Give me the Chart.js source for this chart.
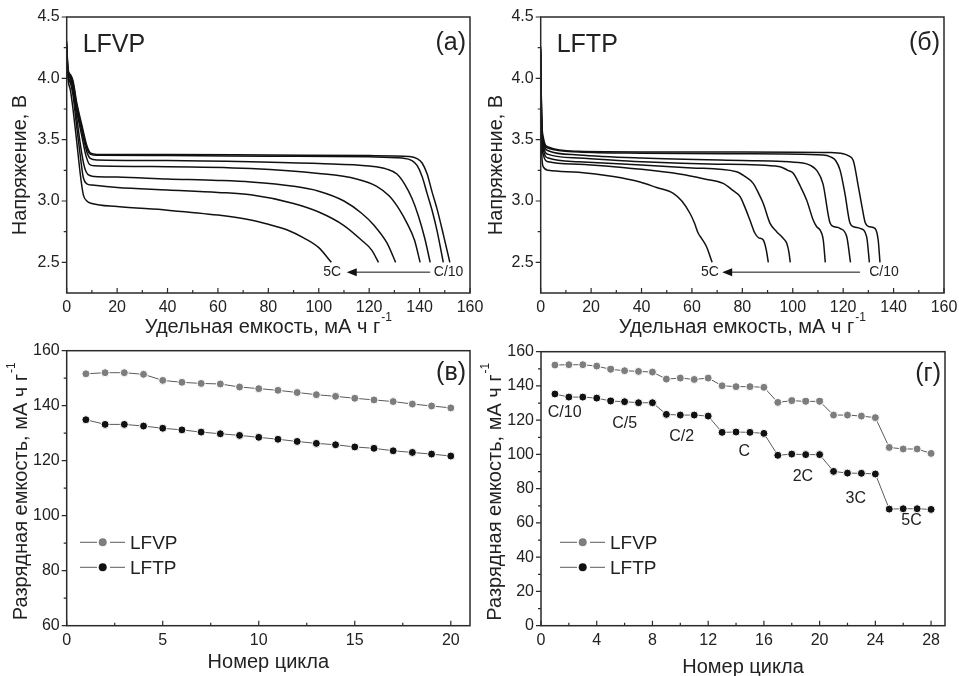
<!DOCTYPE html>
<html>
<head>
<meta charset="utf-8">
<script src="https://cdn.jsdelivr.net/npm/chart.js@4.4.1/dist/chart.umd.min.js"></script>
<style>
  html, body { margin: 0; padding: 0; background: #fff; }
  body { width: 959px; height: 676px; position: relative; overflow: hidden; }
  canvas { position: absolute; }
</style>
</head>
<body>
<canvas id="chartA" width="490" height="340" style="left:0;top:0"></canvas>
<canvas id="chartB" width="479" height="340" style="left:480px;top:0"></canvas>
<canvas id="chartC" width="490" height="336" style="left:0;top:340px"></canvas>
<canvas id="chartD" width="479" height="336" style="left:480px;top:340px"></canvas>
<script>
const FONT = '"Liberation Sans", Arial, sans-serif';
const INK = '#222';

// discharge curves, [capacity mAh/g, voltage V]
const rates = ['C/10', 'C/5', 'C/2', 'C', '2C', '3C', '5C'];

const lfvpC10 = [[0,4.3],[0.5,4.08],[1.5,4.03],[2.5,3.98],[4,3.8],[6,3.62],[8,3.45],[9.5,3.39],[12,3.38],[40,3.38],[80,3.375],[120,3.37],[136,3.362],[139,3.345],[141,3.31],[143,3.22],[145,3.07],[147,2.93],[149.5,2.72],[152,2.5]];
const lfvpC5 = [[0,4.28],[0.5,4.07],[1.5,4.02],[2.5,3.96],[4,3.78],[6,3.6],[8,3.43],[9.5,3.38],[12,3.372],[40,3.37],[80,3.365],[120,3.36],[133,3.35],[137,3.33],[139,3.29],[141,3.2],[143,3.06],[145,2.92],[147,2.75],[149.4,2.5]];
const lfvpC2 = [[0,4.26],[0.5,4.06],[1.5,4.02],[2.5,3.95],[4,3.76],[6,3.57],[8,3.4],[9.5,3.345],[12,3.335],[40,3.33],[73,3.32],[100,3.305],[120,3.285],[127,3.26],[131,3.22],[134,3.14],[137,3.02],[139.5,2.88],[142,2.7],[144.2,2.5]];
const lfvpC1 = [[0,4.24],[0.5,4.05],[1.5,4.0],[2.5,3.93],[4,3.73],[6,3.53],[7.5,3.38],[9,3.3],[11,3.287],[40,3.28],[73,3.265],[100,3.225],[115,3.18],[123,3.12],[128,3.04],[132,2.93],[135,2.82],[138,2.68],[140.2,2.5]];
const lfvp2C = [[0,4.22],[0.5,4.03],[1.5,3.98],[2.5,3.9],[4,3.68],[5.5,3.45],[7,3.28],[8.5,3.215],[11,3.2],[20,3.195],[40,3.18],[60,3.168],[73,3.155],[90,3.12],[100,3.08],[110,3.0],[117,2.9],[122,2.8],[127,2.66],[130.5,2.5]];
const lfvp3C = [[0,4.2],[0.5,4.02],[1.5,3.96],[2.5,3.86],[4,3.6],[5.5,3.35],[6.5,3.2],[8,3.14],[10,3.13],[20,3.11],[40,3.09],[60,3.07],[73,3.05],[90,2.98],[100,2.91],[110,2.8],[117,2.68],[121,2.6],[123.7,2.5]];
const lfvp5C = [[0,4.18],[0.5,4.0],[1.5,3.9],[2.5,3.75],[4,3.48],[5.5,3.2],[6.6,3.05],[8,3.0],[10,2.98],[20,2.955],[40,2.925],[60,2.885],[73,2.845],[80,2.81],[88,2.76],[94,2.7],[100,2.62],[105,2.5]];

const lftpC10 = [[0,4.26],[0.3,3.76],[1,3.52],[3,3.44],[15,3.405],[40,3.4],[80,3.4],[115,3.395],[120,3.385],[122,3.37],[124,3.33],[126,3.12],[127.5,2.95],[128.8,2.82],[130.5,2.79],[132.6,2.777],[133.9,2.68],[134.6,2.5]];
const lftpC5 = [[0,4.24],[0.3,3.74],[1,3.5],[3,3.43],[15,3.4],[40,3.39],[80,3.385],[112,3.375],[115,3.36],[117,3.33],[118.8,3.25],[120.7,3.06],[122.7,2.82],[124.2,2.79],[126.7,2.777],[129.3,2.71],[130.4,2.5]];
const lftpC2 = [[0,4.22],[0.3,3.72],[1,3.48],[3,3.41],[15,3.375],[40,3.35],[80,3.33],[104,3.31],[107,3.29],[109.5,3.25],[112,3.14],[114.8,2.82],[116.5,2.79],[118.7,2.777],[121.4,2.71],[122.9,2.5]];
const lftpC1 = [[0,4.2],[0.3,3.7],[1,3.46],[3,3.38],[15,3.35],[40,3.32],[70,3.3],[94.9,3.28],[98,3.25],[100.2,3.226],[103,3.12],[105.5,3.008],[108.1,2.845],[109.5,2.79],[110.8,2.764],[112.1,2.682],[112.9,2.5]];
const lftp2C = [[0,4.15],[0.3,3.65],[1,3.42],[3,3.35],[15,3.32],[40,3.294],[60,3.27],[77.7,3.239],[81,3.2],[84.3,3.144],[86.5,3.06],[88.3,2.98],[91,2.818],[93.6,2.75],[96,2.7],[97.6,2.655],[98.5,2.58],[99,2.5]];
const lftp3C = [[0,4.1],[0.3,3.6],[1,3.38],[3,3.32],[15,3.3],[40,3.258],[55,3.22],[65,3.18],[72.4,3.144],[76,3.09],[79.1,3.035],[81,2.95],[83,2.845],[85,2.737],[86.5,2.7],[88.3,2.682],[89.5,2.6],[90.3,2.5]];
const lftp5C = [[0,4.0],[0.3,3.45],[1,3.28],[3,3.25],[15,3.235],[28.8,3.2],[39.4,3.155],[46,3.11],[52.6,3.063],[56,3.0],[59.2,2.9],[61,2.82],[62.5,2.737],[64,2.69],[65.8,2.627],[67,2.56],[68,2.5]];

const capacityTicks = [0, 20, 40, 60, 80, 100, 120, 140, 160];
const capacityMinor = [10, 30, 50, 70, 90, 110, 130, 150];
const voltageTicks = [2.5, 3.0, 3.5, 4.0, 4.5];
const voltageMinor = [2.75, 3.25, 3.75, 4.25];

// arrow C/10 -> 5C below the curves: [text x, arrow tail, arrow tip, text x], level V
const arrowA = [151.5, 144.2, 111.1, 105.3];
const arrowB = [136.2, 126.7, 72.0, 67.1];
const arrowLevel = 2.42;

// cycling at C/10, 20 cycles
const cycles20 = [1, 2, 3, 4, 5, 6, 7, 8, 9, 10, 11, 12, 13, 14, 15, 16, 17, 18, 19, 20];
const lfvpCycling = [151.6, 152.0, 152.0, 151.4, 149.2, 148.5, 148.1, 147.9, 146.8, 146.2, 145.6, 144.8, 144.0, 143.4, 142.7, 142.1, 141.5, 140.6, 139.9, 139.2];
const lftpCycling = [134.9, 133.2, 133.2, 132.6, 131.8, 131.2, 130.4, 129.8, 129.2, 128.5, 127.8, 127.0, 126.3, 125.8, 125.0, 124.5, 123.6, 123.0, 122.4, 121.7];
const cycleTicks20 = [0, 5, 10, 15, 20];
const cycleMinor20 = [2.5, 7.5, 12.5, 17.5];
const capTicksC = [60, 80, 100, 120, 140, 160];
const capMinorC = [70, 90, 110, 130, 150];

// rate capability, 4 cycles per rate
const cycles28 = [1, 2, 3, 4, 5, 6, 7, 8, 9, 10, 11, 12, 13, 14, 15, 16, 17, 18, 19, 20, 21, 22, 23, 24, 25, 26, 27, 28];
const lfvpRate = [152.2, 152.4, 152.4, 151.6, 149.7, 148.9, 148.5, 148.1, 144.0, 144.6, 143.8, 144.6, 140.1, 139.6, 139.6, 139.2, 130.4, 131.4, 131.0, 131.0, 123.0, 123.0, 122.4, 121.5, 104.1, 103.2, 103.2, 100.6];
const lftpRate = [135.3, 133.5, 133.5, 132.9, 131.2, 130.8, 130.2, 130.2, 123.4, 123.0, 123.0, 122.4, 112.9, 113.1, 112.9, 112.3, 99.5, 100.2, 99.9, 99.9, 90.1, 89.1, 89.0, 88.6, 68.1, 68.3, 68.3, 67.9];
const cycleTicks28 = [0, 4, 8, 12, 16, 20, 24, 28];
const cycleMinor28 = [2, 6, 10, 14, 18, 22, 26];
const capTicksD = [0, 20, 40, 60, 80, 100, 120, 140, 160];
const capMinorD = [10, 30, 50, 70, 90, 110, 130, 150];
// rate label anchors (cycle, capacity)
const rateLabelX = [1.7, 6.0, 10.1, 14.6, 18.8, 22.6, 26.6];
const rateLabelY = [124.2, 117.8, 110.2, 101.4, 86.8, 74.0, 61.2];

const toPoints = (arr) => arr.map(([x, y]) => ({ x, y }));
const zipPoints = (xs, ys) => xs.map((x, i) => ({ x, y: ys[i] }));

const curve = (arr) => ({
  data: toPoints(arr),
  borderColor: '#111',
  borderWidth: 1.5,
  pointRadius: 0,
  cubicInterpolationMode: 'monotone',
  fill: false
});

const series = (xs, ys, color) => ({
  data: zipPoints(xs, ys),
  borderColor: '#5a5a5a',
  borderWidth: 1,
  pointRadius: 4,
  pointBackgroundColor: color,
  pointBorderColor: '#fff',
  pointBorderWidth: 1,
  fill: false
});

const axis = (a, dir) => ({
  type: 'linear',
  position: dir === 'x' ? 'bottom' : 'left',
  min: a.min,
  max: a.max,
  afterBuildTicks: (s) => { s.ticks = a.ticks.map((value) => ({ value })); },
  afterFit: (s) => {
    if (dir === 'x') {
      s.height = a.size;
      s.paddingLeft = 0;
      s.paddingRight = 0;
    } else {
      s.width = a.size;
      s.paddingTop = 0;
      s.paddingBottom = 0;
    }
  },
  grid: { display: false, drawTicks: false },
  border: { display: false },
  ticks: {
    autoSkip: false,
    maxRotation: 0,
    padding: dir === 'x' ? 5 : 7,
    color: INK,
    font: { family: FONT, size: 16 },
    callback: a.format || ((v) => v)
  }
});

const titleWithSup = (ctx, text, sup, cx, cy, vertical) => {
  ctx.save();
  ctx.translate(cx, cy);
  if (vertical) ctx.rotate(-Math.PI / 2);
  ctx.fillStyle = INK;
  ctx.textBaseline = 'middle';
  ctx.textAlign = 'left';
  ctx.font = `20px ${FONT}`;
  const w1 = ctx.measureText(text).width;
  ctx.font = `12px ${FONT}`;
  const w2 = sup ? ctx.measureText(sup).width + 1 : 0;
  const start = -(w1 + w2) / 2;
  ctx.font = `20px ${FONT}`;
  ctx.fillText(text, start, 0);
  if (sup) {
    ctx.font = `12px ${FONT}`;
    ctx.fillText(sup, start + w1 + 1, -9);
  }
  ctx.restore();
};

const decor = (cfg) => ({
  id: 'decor',
  afterDraw: (chart) => {
    const { ctx, chartArea: area, scales: { x, y } } = chart;
    ctx.save();

    ctx.strokeStyle = '#2a2a2a';
    ctx.lineWidth = 1.5;
    ctx.strokeRect(area.left, area.top, area.width, area.height);

    ctx.lineWidth = 1.2;
    ctx.beginPath();
    const yMark = (v, len) => {
      const p = y.getPixelForValue(v);
      ctx.moveTo(area.left - len, p);
      ctx.lineTo(area.left, p);
    };
    const xMark = (v, len) => {
      const p = x.getPixelForValue(v);
      ctx.moveTo(p, area.bottom);
      ctx.lineTo(p, area.bottom - len);
    };
    cfg.y.ticks.forEach((v) => yMark(v, 5));
    cfg.y.minor.forEach((v) => yMark(v, 3));
    cfg.x.ticks.forEach((v) => xMark(v, 5));
    cfg.x.minor.forEach((v) => xMark(v, 3));
    ctx.stroke();

    const midX = (area.left + area.right) / 2;
    titleWithSup(ctx, cfg.xTitle[0], cfg.xTitle[1], midX, area.bottom + cfg.xTitle[2], false);
    titleWithSup(ctx, cfg.yTitle[0], cfg.yTitle[1], cfg.yTitle[2], (area.top + area.bottom) / 2 + cfg.yTitle[3], true);

    ctx.fillStyle = INK;
    ctx.textBaseline = 'alphabetic';
    ctx.font = `25px ${FONT}`;
    if (cfg.name) {
      ctx.textAlign = 'left';
      ctx.fillText(cfg.name, area.left + 16, area.top + 35);
    }
    ctx.textAlign = 'right';
    ctx.fillText(cfg.tag, area.right - 4, area.top + cfg.tagDy);

    if (cfg.arrow) {
      const [tx1, tail, tip, tx2] = cfg.arrow;
      const py = y.getPixelForValue(arrowLevel);
      const pTail = x.getPixelForValue(tail);
      const pTip = x.getPixelForValue(tip);
      ctx.strokeStyle = '#111';
      ctx.lineWidth = 1;
      ctx.beginPath();
      ctx.moveTo(pTail, py);
      ctx.lineTo(pTip + 8, py);
      ctx.stroke();
      ctx.fillStyle = '#111';
      ctx.beginPath();
      ctx.moveTo(pTip, py);
      ctx.lineTo(pTip + 10, py - 4);
      ctx.lineTo(pTip + 10, py + 4);
      ctx.closePath();
      ctx.fill();
      ctx.fillStyle = INK;
      ctx.textAlign = 'center';
      ctx.textBaseline = 'middle';
      ctx.font = `14px ${FONT}`;
      ctx.fillText(rates[0], x.getPixelForValue(tx1), py);
      ctx.fillText(rates[6], x.getPixelForValue(tx2), py);
    }

    if (cfg.legend) {
      const lg = cfg.legend;
      [['LFVP', '#7d7d7d'], ['LFTP', '#111']].forEach(([label, color], i) => {
        const py = area.top + lg.top + i * 25;
        ctx.strokeStyle = '#5a5a5a';
        ctx.lineWidth = 1;
        ctx.beginPath();
        ctx.moveTo(area.left + lg.x0, py);
        ctx.lineTo(area.left + lg.x1, py);
        ctx.moveTo(area.left + lg.x3, py);
        ctx.lineTo(area.left + lg.x4, py);
        ctx.stroke();
        ctx.fillStyle = color;
        ctx.beginPath();
        ctx.arc(area.left + lg.x2, py, 4, 0, Math.PI * 2);
        ctx.fill();
        ctx.fillStyle = INK;
        ctx.textAlign = 'left';
        ctx.textBaseline = 'middle';
        ctx.font = `19px ${FONT}`;
        ctx.fillText(label, area.left + lg.text, py + 1);
      });
    }

    if (cfg.rateLabels) {
      ctx.fillStyle = INK;
      ctx.textAlign = 'center';
      ctx.textBaseline = 'middle';
      ctx.font = `16px ${FONT}`;
      rates.forEach((r, i) => {
        ctx.fillText(r, x.getPixelForValue(rateLabelX[i]), y.getPixelForValue(rateLabelY[i]));
      });
    }

    ctx.restore();
  }
});

const makeChart = (id, cfg) => new Chart(document.getElementById(id), {
  type: 'line',
  data: { datasets: cfg.datasets },
  options: {
    responsive: false,
    animation: false,
    events: [],
    layout: { padding: cfg.padding },
    plugins: { legend: { display: false }, tooltip: { enabled: false } },
    scales: { x: axis(cfg.x, 'x'), y: axis(cfg.y, 'y') }
  },
  plugins: [decor(cfg)]
});

const oneDecimal = (v) => v.toFixed(1);

makeChart('chartA', {
  datasets: [lfvpC10, lfvpC5, lfvpC2, lfvpC1, lfvp2C, lfvp3C, lfvp5C].map(curve),
  padding: { top: 17, right: 20, left: 0, bottom: 0 },
  x: { min: 0, max: 160, ticks: capacityTicks, minor: capacityMinor, size: 47 },
  y: { min: 2.25, max: 4.5, ticks: voltageTicks, minor: voltageMinor, size: 66.7, format: oneDecimal },
  xTitle: ['Удельная емкость, мА ч г', '-1', 34],
  yTitle: ['Напряжение, В', null, 20, 10],
  name: 'LFVP', tag: '(a)', tagDy: 33,
  arrow: arrowA
});

makeChart('chartB', {
  datasets: [lftpC10, lftpC5, lftpC2, lftpC1, lftp2C, lftp3C, lftp5C].map(curve),
  padding: { top: 17, right: 15, left: 0, bottom: 0 },
  x: { min: 0, max: 160, ticks: capacityTicks, minor: capacityMinor, size: 47 },
  y: { min: 2.25, max: 4.5, ticks: voltageTicks, minor: voltageMinor, size: 60.7, format: oneDecimal },
  xTitle: ['Удельная емкость, мА ч г', '-1', 34],
  yTitle: ['Напряжение, В', null, 16, 10],
  name: 'LFTP', tag: '(б)', tagDy: 33,
  arrow: arrowB
});

makeChart('chartC', {
  datasets: [series(cycles20, lfvpCycling, '#7d7d7d'), series(cycles20, lftpCycling, '#111')],
  padding: { top: 10.7, right: 20, left: 0, bottom: 0 },
  x: { min: 0, max: 21, ticks: cycleTicks20, minor: cycleMinor20, size: 50.3 },
  y: { min: 60, max: 160, ticks: capTicksC, minor: capMinorC, size: 66.7 },
  xTitle: ['Номер цикла', null, 37],
  yTitle: ['Разрядная емкость, мА ч г', '-1', 21, 3],
  tag: '(в)', tagDy: 29,
  legend: { top: 191.6, x0: 13.3, x1: 30.3, x2: 36, x3: 43.3, x4: 58.3, text: 63.3 }
});

makeChart('chartD', {
  datasets: [series(cycles28, lfvpRate, '#7d7d7d'), series(cycles28, lftpRate, '#111')],
  padding: { top: 11.7, right: 14, left: 0, bottom: 0 },
  x: { min: 0, max: 29, ticks: cycleTicks28, minor: cycleMinor28, size: 50.3 },
  y: { min: 0, max: 160, ticks: capTicksD, minor: capMinorD, size: 61 },
  xTitle: ['Номер цикла', null, 42],
  yTitle: ['Разрядная емкость, мА ч г', '-1', 15, 3],
  tag: '(г)', tagDy: 29,
  legend: { top: 190.6, x0: 19, x1: 36, x2: 41.7, x3: 49, x4: 64, text: 69 },
  rateLabels: true
});
</script>
</body>
</html>
